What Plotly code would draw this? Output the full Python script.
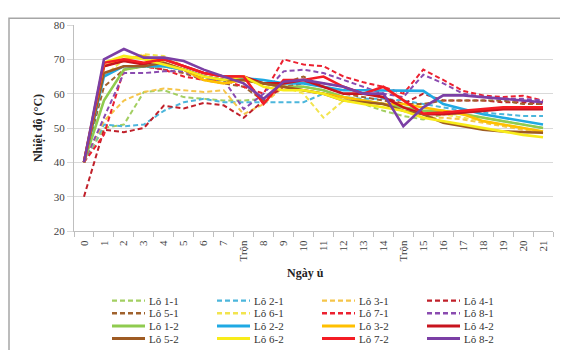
import plotly.graph_objects as go

# ---------------- data ----------------
days = ["0", "1", "2", "3", "4", "5", "6", "7", "Trộn", "8", "9", "10", "11",
        "12", "13", "14", "Trộn", "15", "16", "17", "18", "19", "20", "21"]

series_names = ["Lô 1-1", "Lô 2-1", "Lô 3-1", "Lô 4-1", "Lô 5-1", "Lô 6-1", "Lô 7-1", "Lô 8-1",
                "Lô 1-2", "Lô 2-2", "Lô 3-2", "Lô 4-2", "Lô 5-2", "Lô 6-2", "Lô 7-2", "Lô 8-2"]

lo_1_1 = [40, 50, 51, 60.5, 61, 59, 58.5, 58, 58, 58.5, 62, 62, 61, 59, 57, 55, 53.5, 52.5, 54, 54, 53, 52, 51, 50]
lo_2_1 = [40, 51, 50.5, 51, 55, 57.5, 58.5, 57.5, 57.5, 57.5, 57.5, 57.5, 60, 59, 58.5, 58.5, 58, 57, 56, 55, 54.5, 54, 53.5, 53.5]
lo_3_1 = [40, 52, 58, 60.5, 61.5, 61, 60.5, 61, 54, 57, 62, 62, 61, 59, 58, 57, 55, 53, 53, 52.5, 51.5, 50.5, 49.5, 48.5]
lo_4_1 = [30, 49.5, 48.8, 50, 56.5, 55.7, 57.3, 56.6, 53, 58, 62, 63, 63, 62, 60, 59, 57, 60, 58, 58, 58, 57.5, 57.5, 57]
lo_5_1 = [40, 62, 67, 68, 67, 66, 64, 63, 62, 58, 63, 65, 62, 60, 59, 58, 57, 57, 58, 58, 58, 58, 57, 57]
lo_6_1 = [40, 65, 70, 71.5, 71, 68, 66, 65, 64, 63, 62, 60, 53, 58, 58, 57, 56, 55, 54, 53, 52, 51, 50, 49]
lo_7_1 = [40, 48, 67, 68, 67, 65, 64, 64, 62, 60, 70, 68.5, 68, 65, 63.3, 62, 60, 67, 64, 60.8, 59.5, 59, 59.4, 58]
lo_8_1 = [40, 53, 66, 66, 66.5, 66.5, 64, 64, 55.5, 60, 66.5, 67, 66, 64, 62, 60, 59, 65.5, 63, 60, 59, 58.5, 58.5, 58]
lo_1_2 = [40, 58, 67, 68, 68, 67, 65, 64, 64, 63, 62, 62, 61, 59, 58, 57, 56, 55, 55, 54, 53, 52, 51, 50]
lo_2_2 = [40, 65, 68, 68, 68, 67, 65, 64, 64.5, 64, 63, 63, 62, 61, 61, 61, 61, 60.8, 57, 55.5, 54, 53, 52, 51]
lo_3_2 = [40, 68, 70, 71, 69, 67, 64, 63, 64, 63, 62, 61, 60, 59, 58, 57, 57, 56, 55, 54, 52, 51, 50, 49]
lo_4_2 = [40, 68, 69.5, 68.5, 70, 68, 66, 65, 65, 63, 63, 64, 62, 60, 60, 59, 56, 54, 54, 54.5, 55, 55.5, 55.5, 55.5]
lo_5_2 = [40, 66, 68, 68, 69, 67, 65, 64, 64, 63, 62, 61, 60, 58, 57.5, 57, 55, 54, 51.5, 50.5, 49.5, 49, 48.8, 48.6]
lo_6_2 = [40, 69, 71, 70, 68.5, 67, 65, 64, 65, 62, 61, 61, 60, 58, 57, 56, 55, 53, 52, 51, 50, 49, 48, 47.3]
lo_7_2 = [40, 69, 70, 69, 70, 68, 66, 65, 65, 57, 64, 64, 65, 62, 60, 62, 58, 54.2, 54.5, 55, 55.5, 56, 56, 56]
lo_8_2 = [40, 70, 73, 70.5, 70.5, 69.5, 67, 65, 63, 58.5, 63.5, 64, 63, 62, 60, 60, 50.5, 56, 59.5, 59.5, 59, 58.5, 58, 57.5]

series_values = [lo_1_1, lo_2_1, lo_3_1, lo_4_1, lo_5_1, lo_6_1, lo_7_1, lo_8_1,
                 lo_1_2, lo_2_2, lo_3_2, lo_4_2, lo_5_2, lo_6_2, lo_7_2, lo_8_2]

y_ticks = [20, 30, 40, 50, 60, 70, 80]

# ---------------- styles ----------------
colors = ["#A3CF62", "#4CB6DC", "#F5C54A", "#C0202A", "#A0622D", "#F2E44E", "#EC2130", "#8A4BB0",
          "#8FCB4F", "#1FA9E3", "#FFC000", "#C8141E", "#9E5B23", "#F8EC1A", "#F41C24", "#7B3FA5"]
dashes = ["5px,3px"] * 8 + ["solid"] * 8
widths = [2] * 8 + [2.6] * 8

# the page adds an 8px body margin, so the figure is 8px smaller and offset
OFF = 8
W, H = 568 - OFF, 350 - OFF
ML, MR, MT, MB = 74 - OFF, 15, 19 - OFF, 119
PW, PH = W - ML - MR, H - MT - MB


def px_x(px):
    return (px - OFF - ML) / PW


def px_y(py):
    return (H - MB - (py - OFF)) / PH


x_idx = list(range(len(days)))

fig = go.Figure()
for name, vals, c, d, w in zip(series_names, series_values, colors, dashes, widths):
    fig.add_trace(go.Scatter(x=x_idx, y=vals, name=name, mode="lines",
                             line=dict(color=c, dash=d, width=w),
                             showlegend=False))

font_family = "Liberation Serif, Times New Roman, serif"

fig.update_layout(
    width=W, height=H,
    margin=dict(l=ML, r=MR, t=MT, b=MB),
    paper_bgcolor="white", plot_bgcolor="white",
    font=dict(family=font_family, size=11, color="#333333"),
    xaxis=dict(
        range=[-0.5, len(days) - 0.5],
        tickmode="array", tickvals=x_idx, ticktext=days,
        tickangle=-90, ticks="", showgrid=False, zeroline=False,
        showline=True, linecolor="#BFBFBF", linewidth=1,
        tickfont=dict(size=11, color="#404040"),
        ticklabelstandoff=4,
        minor=dict(tickmode="array", tickvals=[i - 0.5 for i in range(len(days) + 1)],
                   ticks="outside", ticklen=5, tickcolor="#BFBFBF", showgrid=False),
    ),
    yaxis=dict(
        range=[20, 80], tickmode="array", tickvals=y_ticks,
        showgrid=True, gridcolor="#D9D9D9", gridwidth=1, zeroline=False,
        showline=True, linecolor="#BFBFBF", linewidth=1,
        ticks="outside", ticklen=6, tickcolor="#D9D9D9",
        tickfont=dict(size=11, color="#404040"),
        title=dict(text="<b>Nhiệt độ (°C)</b>", font=dict(size=12, color="#222222"), standoff=8),
    ),
)

# x-axis title
fig.add_annotation(text="<b>Ngày ủ</b>", xref="paper", yref="paper",
                   x=px_x(305), y=px_y(274), showarrow=False,
                   font=dict(size=12, color="#222222"), xanchor="center", yanchor="middle")

# outer frame (partly outside view)
fig.add_shape(type="rect", xref="paper", yref="paper",
              x0=px_x(9), x1=px_x(620), y0=px_y(400), y1=px_y(12),
              line=dict(color="#A6A6A6", width=1.5), layer="below")

# manual legend: 4 columns x 4 rows
col_x = [112, 217, 322, 427]
row_y = [302.7, 315.7, 328.7, 341.7]
for k, (name, c, d, w) in enumerate(zip(series_names, colors, dashes, widths)):
    r, cc = divmod(k, 4)
    x0 = col_x[cc]
    y0 = row_y[r]
    fig.add_shape(type="line", xref="paper", yref="paper",
                  x0=px_x(x0), x1=px_x(x0 + 33), y0=px_y(y0), y1=px_y(y0),
                  line=dict(color=c, dash=d, width=w + 0.4))
    fig.add_annotation(text=name, xref="paper", yref="paper",
                       x=px_x(x0 + 35), y=px_y(y0), showarrow=False,
                       xanchor="left", yanchor="middle",
                       font=dict(size=11, color="#333333"))

fig.write_html("out.html")
